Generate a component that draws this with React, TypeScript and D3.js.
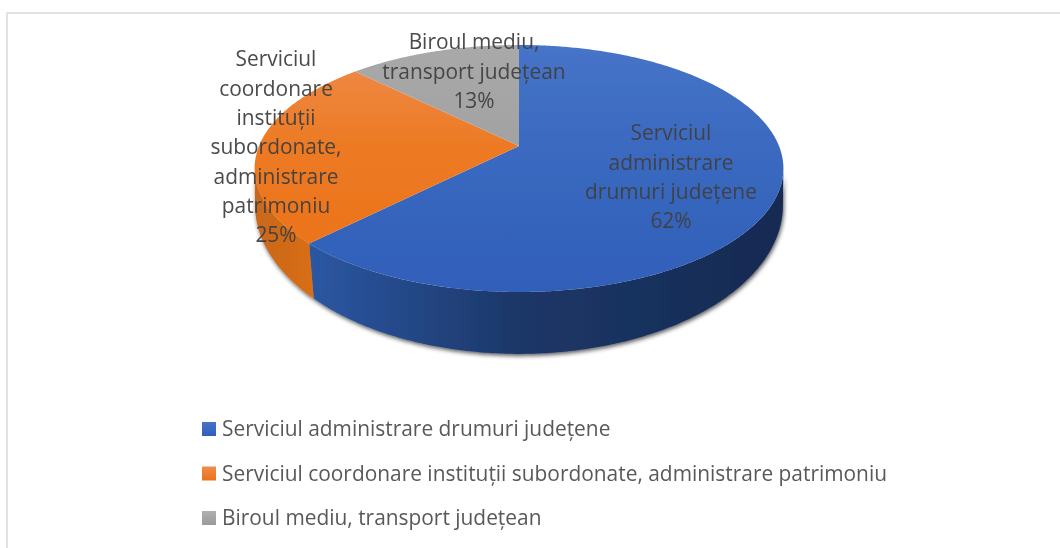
import React from "react";
import * as d3 from "d3";

const categories = [
  "Serviciul administrare drumuri județene",
  "Serviciul coordonare instituții subordonate, administrare patrimoniu",
  "Biroul mediu, transport județean",
];
const values = [62.4, 25, 12.6];
const labelLines = [
  ["Serviciul", "administrare", "drumuri județene"],
  ["Serviciul", "coordonare", "instituții", "subordonate,", "administrare", "patrimoniu"],
  ["Biroul mediu,", "transport județean"],
];
const topGradients = [
  ["#4674c8", "#3b6ac0", "#2f5fb9"],
  ["#ee8d4c", "#ed7a24", "#ec7116"],
  ["#a9a9a9", "#a2a2a2", "#9c9c9c"],
];
const sideGradients = [
  ["#2b57a3", "#1c3768", "#152a52"],
  ["#c9681c", "#d06a18", "#d96f14"],
  ["#8a8a8a", "#7a7a7a", "#6a6a6a"],
];
const legendColors = [
  ["#2f5fb9", "#4674c8"],
  ["#ec7116", "#ee8d4c"],
  ["#9a9a9a", "#b0b0b0"],
];
const labelAnchors = [
  [671, 133],
  [276, 59],
  [474, 42],
];

const FONT = "'Open Sans', sans-serif";
const topPlane = { cx: 519, cy: 146, rx: 260, ry: 119.4, k: 0.182 };
const lowPlane = { cx: 519, cy: 182.6, rx: 261, ry: 145.6, k: 0.15 };
const VISIBLE_FROM = 1.75;
const VISIBLE_TO = 4.53;

type Plane = typeof topPlane;
const project = (p: Plane, a: number): [number, number] => {
  const u = Math.sin(a);
  const v = Math.cos(a);
  const d = 1 + p.k * v;
  return [p.cx + (p.rx * u) / d, p.cy - (p.ry * v) / d];
};
const samples = (a0: number, a1: number) => {
  const n = Math.max(2, Math.ceil((a1 - a0) / 0.01));
  return d3.range(n + 1).map((i) => a0 + ((a1 - a0) * i) / n);
};

export default function App() {
  const arcs = d3.pie<number>().sort(null)(values);
  const line = d3.line<[number, number]>();
  const legendY = d3.scalePoint<number>().domain([0, 1, 2]).range([429, 518]);

  const topPath = (a0: number, a1: number) =>
    line([[topPlane.cx, topPlane.cy], ...samples(a0, a1).map((a) => project(topPlane, a))]) + "Z";
  const sidePath = (a0: number, a1: number) => {
    const from = Math.max(a0, VISIBLE_FROM);
    const to = Math.min(a1, VISIBLE_TO);
    if (to <= from) return "";
    const s = samples(from, to);
    const upper = s.map((a) => project(topPlane, a));
    const lower = s.map((a) => project(lowPlane, a)).reverse();
    return line([...upper, ...lower]) + "Z";
  };

  return (
    <svg
      width={1060}
      height={548}
      style={{ position: "absolute", left: 0, top: 0, background: "#fff", display: "block" }}
    >
      <defs>
        {topGradients.map((c, i) => (
          <linearGradient key={i} id={`top${i}`} gradientUnits="userSpaceOnUse" x1="0" y1="45" x2="0" y2="292">
            <stop offset="0" stopColor={c[0]} />
            <stop offset="0.4" stopColor={c[1]} />
            <stop offset="1" stopColor={c[2]} />
          </linearGradient>
        ))}
        {sideGradients.map((c, i) => {
          const [x1, x2] = i === 0 ? [310, 780] : [258, 316];
          return (
            <linearGradient key={i} id={`side${i}`} gradientUnits="userSpaceOnUse" x1={x1} y1="0" x2={x2} y2="0">
              <stop offset="0" stopColor={c[0]} />
              <stop offset="0.44" stopColor={c[1]} />
              <stop offset="1" stopColor={c[2]} />
            </linearGradient>
          );
        })}
        {legendColors.map((c, i) => (
          <linearGradient key={i} id={`leg${i}`} x1="0" y1="1" x2="0" y2="0">
            <stop offset="0" stopColor={c[0]} />
            <stop offset="1" stopColor={c[1]} />
          </linearGradient>
        ))}
        <filter id="shadow" x="-10%" y="-10%" width="120%" height="125%">
          <feDropShadow dx="1" dy="2" stdDeviation="2" floodColor="#000" floodOpacity="0.65" />
        </filter>
        <filter id="soft" filterUnits="userSpaceOnUse" x="0" y="0" width="1060" height="548">
          <feGaussianBlur stdDeviation="0.4" />
        </filter>
      </defs>

      <g filter="url(#soft)">
        <path d="M7 548V13H1060" fill="none" stroke="#e2e2e2" strokeWidth={2} />

        <g filter="url(#shadow)">
          {arcs.map((d, i) => (
            <path key={i} d={sidePath(d.startAngle, d.endAngle)} fill={`url(#side${i})`} />
          ))}
        </g>
        {arcs.map((d, i) => (
          <path key={i} d={topPath(d.startAngle, d.endAngle)} fill={`url(#top${i})`} />
        ))}

        <g fontFamily={FONT} fontSize={20.9} fill="#404040" textAnchor="middle">
          {arcs.map((d, i) => {
            const lines = [...labelLines[i], `${Math.round(values[i])}%`];
            return (
              <text key={i} fillOpacity={0.95}>
                {lines.map((t, j) => (
                  <tspan key={j} x={labelAnchors[i][0]} y={labelAnchors[i][1] + j * 29.3} dy="0.35em">
                    {t}
                  </tspan>
                ))}
              </text>
            );
          })}
        </g>

        <g fontFamily={FONT} fontSize={20.9} fill="#595959">
          {categories.map((c, i) => (
            <g key={i} transform={`translate(0,${legendY(i)})`}>
              <rect x={202} y={-7} width={14} height={14} fill={`url(#leg${i})`} />
              <text x={222} dy="0.35em">{c}</text>
            </g>
          ))}
        </g>
      </g>
    </svg>
  );
}
